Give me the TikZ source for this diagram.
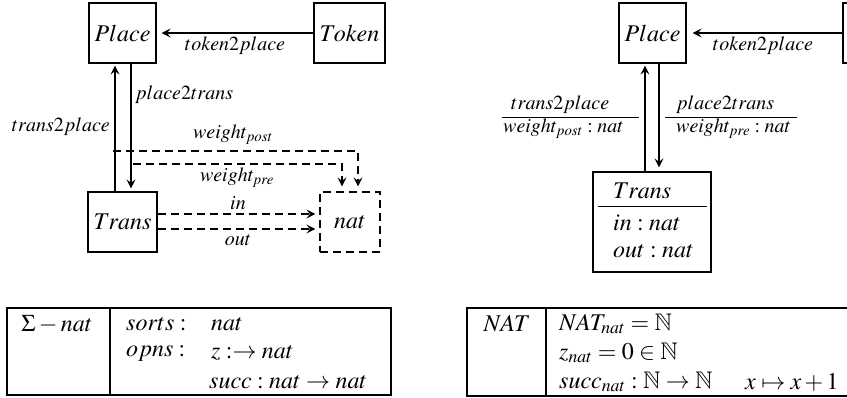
\documentclass[tikz,border=0pt]{standalone}
\usepackage{mathptmx}
\usepackage{amssymb}
\usepackage{fontspec}
\setmainfont{Liberation Serif}
\usetikzlibrary{arrows.meta,calc}

\tikzset{
  box/.style={draw, line width=1.2pt, inner sep=0pt, font=\fontsize{24}{28}\selectfont},
  dbox/.style={box, dash pattern=on 8pt off 5pt},
  arr/.style={line width=1.2pt, -{Stealth[length=9pt,width=9pt,inset=3.5pt]}},
  darr/.style={arr, dash pattern=on 8pt off 5pt},
  lbl/.style={font=\fontsize{20}{24}\selectfont, inner sep=0pt},
  tbl/.style={font=\fontsize{24}{28}\selectfont, inner sep=0pt, anchor=west},
  frame/.style={line width=1.2pt},
  bar/.style={line width=0.8pt},
}

\begin{document}
\begin{tikzpicture}[x=1pt,y=-1pt]
\useasboundingbox (0,0) rectangle (847,398);

% ---------- left: graph of the signature ----------
\node[box, minimum width=67pt, minimum height=60pt] (PlaceL) at (122.5,33) {$Place$};
\node[box, minimum width=71pt, minimum height=60pt] (TokenL) at (349.5,33) {$Token$};
\node[box, minimum width=69pt, minimum height=60pt] (TransL) at (122.5,222) {$Trans$};
\node[dbox, minimum width=60pt, minimum height=60pt] (natL) at (350,222) {$nat$};

\draw[arr, shorten >=5pt] (TokenL.west) -- (PlaceL.east);
\node[lbl] at (235,46) {$token2place$};

\draw[arr, shorten >=2pt] ([xshift=-7.5pt]TransL.north) -- ([xshift=-7.5pt]PlaceL.south);
\draw[arr, shorten >=3pt] ([xshift=8.5pt]PlaceL.south) -- ([xshift=8.5pt]TransL.north);
\node[lbl, anchor=west] at (135,95) {$place2trans$};
\node[lbl, anchor=east] at (110,127) {$trans2place$};

\coordinate (wpost) at (113,151);
\coordinate (wpre) at (133,164);
\draw[darr, shorten >=5pt] (wpost) -| ([xshift=8pt]natL.north);
\draw[darr, shorten >=5pt] (wpre) -| ([xshift=-8pt]natL.north);
\node[lbl] at (233,135) {$weight_{post}$};
\node[lbl] at (237,178) {$weight_{pre}$};

\draw[darr, shorten >=4pt] ([yshift=8pt]TransL.east) -- ([yshift=8pt]natL.west);
\draw[darr, shorten >=4pt] ([yshift=-7pt]TransL.east) -- ([yshift=-7pt]natL.west);
\node[lbl] at (238,203) {$in$};
\node[lbl] at (238,240) {$out$};

% ---------- right: class diagram ----------
\node[box, minimum width=67pt, minimum height=60pt] (PlaceR) at (652.5,33) {$Place$};
\node[box, minimum width=71pt, minimum height=60pt] (TokenR) at (878.5,33) {};
\node[box, minimum width=118pt, minimum height=100pt] (TransR) at (652,222) {};

\draw[arr, shorten >=6pt] (TokenR.west) -- (PlaceR.east);
\node[lbl] at (763,46) {$token2place$};

\draw[arr, shorten >=2pt] ([xshift=-7pt]TransR.north) -- ([xshift=-7.5pt]PlaceR.south);
\draw[arr, shorten >=4pt] ([xshift=6.5pt]PlaceR.south) -- ([xshift=7pt]TransR.north);

\node[tbl] at (613,191) {$Trans$};
\draw[bar] ($(TransR.north west)+(6,35)$) -- ($(TransR.north east)+(-5,35)$);
\node[tbl] at (613,223) {$in : nat$};
\node[tbl] at (613,251) {$out : nat$};

\node[lbl, anchor=west] at (511,105) {$trans2place$};
\draw[bar] (502,117) -- (639,117);
\node[lbl, anchor=west] at (503,129) {$weight_{post} : nat$};

\node[lbl, anchor=west] at (676,105) {$place2trans$};
\draw[bar] (665,117) -- (797,117);
\node[lbl, anchor=west] at (676,129) {$weight_{pre} : nat$};

% ---------- bottom: signature and algebra ----------
\draw[frame] (7,308) rectangle (391,395);
\draw[frame] (110,308) -- (110,395);
\node[tbl, anchor=center] at (57,324) {$\Sigma - nat$};
\node[tbl] at (126,324) {$sorts :$};
\node[tbl] at (211,324) {$nat$};
\node[tbl] at (126,353) {$opns :$};
\node[tbl] at (211,353) {$z :\rightarrow nat$};
\node[tbl] at (209,382) {$succ : nat \rightarrow nat$};

\draw[frame] (860,308) -- (467,308) -- (467,396) -- (860,396);
\draw[frame] (546,308) -- (546,396);
\node[tbl, anchor=center] at (507,324) {$NAT$};
\node[tbl] at (559,324) {$NAT_{nat} = \mathbb{N}$};
\node[tbl] at (559,353) {$z_{nat} = 0 \in \mathbb{N}$};
\node[tbl] at (559,382) {$succ_{nat} : \mathbb{N} \rightarrow \mathbb{N}$};
\node[tbl] at (745,382) {$x \mapsto x+1$};
\end{tikzpicture}
\end{document}
